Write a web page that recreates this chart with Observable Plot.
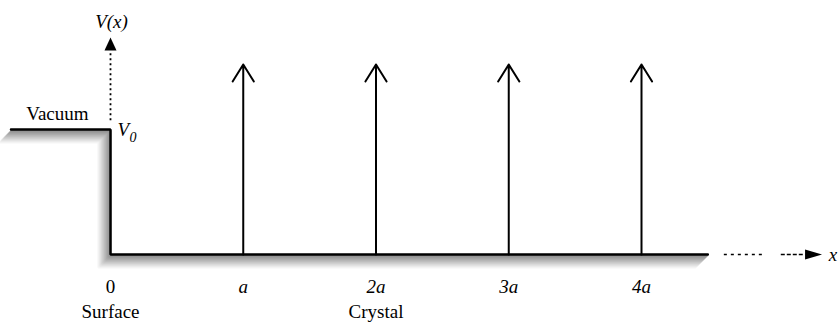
<!DOCTYPE html>
<html>
<head>
<meta charset="utf-8">
<script src="https://cdn.jsdelivr.net/npm/d3@7"></script>
<script src="https://cdn.jsdelivr.net/npm/@observablehq/plot@0.6"></script>
<style>
  html, body { margin: 0; padding: 0; background: #fff; overflow: hidden; }
  svg text { font-family: "Liberation Serif", "Times New Roman", serif; }
</style>
</head>
<body>
<div id="chart"></div>
<script>
// ---- data (x in units of lattice constant a, y in units of V0) ----
const siteX = [1, 2, 3, 4];
const siteLabels = ["a", "2a", "3a", "4a"];
const deltaTop = 1.52;               // height reached by delta-spike arrows
const stepX = [-0.75, 0, 0, 4.5];    // potential profile V(x)
const stepY = [1, 1, 0, 0];
const vAxisRange = [1.07, 1.63];     // dotted V(x) axis
const vAxisTip = 1.736;
const xDotted = [4.624, 4.94];       // dotted continuation of x axis
const xDashed = [5.053, 5.22];       // dashed part before arrow head
const xTip = 5.36;
const regionLabels = [
  {x: 0, text: "Surface"},
  {x: 2, text: "Crystal"}
];

const step = stepX.map((x, i) => ({x, y: stepY[i]}));
const sites = siteX.map((x, i) => ({x, label: siteLabels[i]}));

const headUp = (L, w) => ({
  draw(ctx) {
    ctx.moveTo(0, 0);
    ctx.lineTo(-w / 2, L);
    ctx.lineTo(w / 2, L);
    ctx.closePath();
  }
});

// soft shadow: grey layers, drawn far-to-near
const shadowGreys = ["#f6f6f6", "#efefef", "#e7e7e7", "#dedede", "#d5d5d5", "#cccccc",
                     "#c3c3c3", "#bababa", "#b1b1b1", "#a8a8a8", "#a0a0a0", "#989898", "#909090"];
const shadowLayers = shadowGreys.map((c, i) => {
  const k = shadowGreys.length - i;
  return Plot.line(step, {
    x: "x", y: "y", dx: -k + 1, dy: k,
    stroke: c, strokeWidth: 2.2,
    strokeLinejoin: "miter", strokeLinecap: "butt"
  });
});

const T = {fill: "#000", fontFamily: "Liberation Serif", fontSize: 19};

const chart = Plot.plot({
  width: 838,
  height: 322,
  margin: 0,
  x: {domain: [0, 4], range: [110, 641], axis: null},
  y: {domain: [0, 1], range: [254, 129], axis: null},
  style: {background: "#fff"},
  marks: [
    ...shadowLayers,
    // potential step and crystal floor
    Plot.line(step, {x: "x", y: "y", stroke: "#000", strokeWidth: 2.4, strokeLinejoin: "miter"}),
    // delta spikes
    Plot.arrow(sites, {
      x1: "x", x2: "x", y1: () => 0, y2: () => deltaTop,
      stroke: "#000", strokeWidth: 2, headLength: 15, headAngle: 64
    }),
    // V(x) axis (dotted)
    Plot.ruleX([0], {y1: vAxisRange[0], y2: vAxisRange[1], stroke: "#000", strokeWidth: 1.8, strokeDasharray: "2,3"}),
    Plot.dot([{x: 0, y: vAxisTip}], {x: "x", y: "y", symbol: headUp(13, 12), fill: "#000", stroke: "none"}),
    // x axis continuation
    Plot.ruleY([0], {x1: xDotted[0], x2: xDotted[1], stroke: "#000", strokeWidth: 1.5, strokeDasharray: "3,4"}),
    Plot.ruleY([0], {x1: xDashed[0], x2: xDashed[1], stroke: "#000", strokeWidth: 1.5, strokeDasharray: "4,2"}),
    Plot.dot([{x: xTip, y: 0}], {x: "x", y: "y", symbol: headUp(17, 10), rotate: 90, fill: "#000", stroke: "none"}),
    // labels
    Plot.text([{x: 0, y: 0, t: "0"}], {x: "x", y: "y", text: "t", dy: 32, ...T}),
    Plot.text(sites, {x: "x", y: () => 0, text: "label", dy: 32, fontStyle: "italic", ...T}),
    Plot.text(regionLabels, {x: "x", y: () => 0, text: "text", dy: 57, ...T}),
    Plot.text([{x: 0, y: 1, t: "V(x)"}], {x: "x", y: "y", text: "t", dy: -108, dx: 1, fontStyle: "italic", ...T}),
    Plot.text([{x: -0.4, y: 1, t: "Vacuum"}], {x: "x", y: "y", text: "t", dy: -16, ...T}),
    Plot.text([{x: 0, y: 1, t: "V"}], {x: "x", y: "y", text: "t", dx: 7, dy: 0, textAnchor: "start", fontStyle: "italic", ...T}),
    Plot.text([{x: 0, y: 1, t: "0"}], {x: "x", y: "y", text: "t", dx: 19, dy: 8, textAnchor: "start", fontStyle: "italic", ...T, fontSize: 14}),
    Plot.text([{x: 5.41, y: 0, t: "x"}], {x: "x", y: "y", text: "t", dy: 0, textAnchor: "start", fontStyle: "italic", ...T})
  ]
});
document.getElementById("chart").appendChild(chart);
</script>
</body>
</html>
